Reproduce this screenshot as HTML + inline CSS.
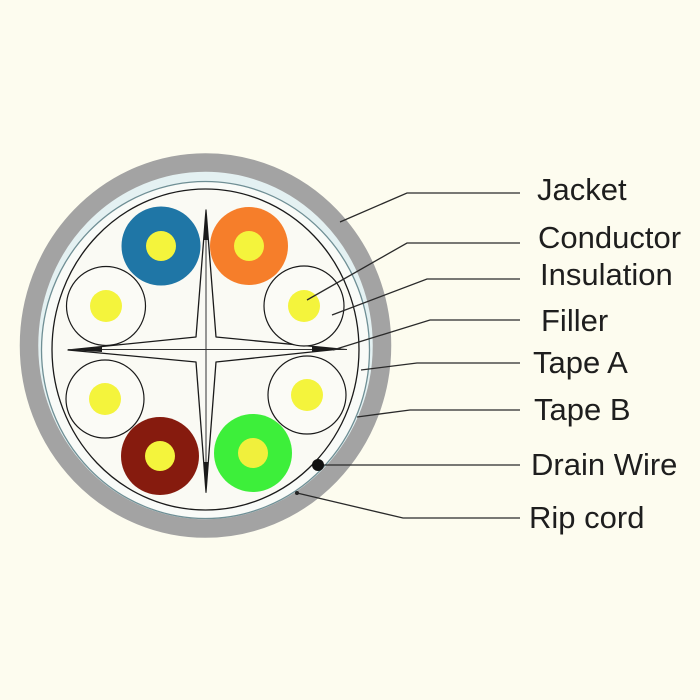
<!DOCTYPE html>
<html>
<head>
<meta charset="utf-8">
<style>
  html,body{margin:0;padding:0;background:#fdfcef;}
  body{width:700px;height:700px;overflow:hidden;}
  svg{display:block;}
  text{font-family:"Liberation Sans",Arial,sans-serif;font-size:31px;fill:#1e1e1e;}
</style>
</head>
<body>
<svg width="700" height="700" viewBox="0 0 700 700" xmlns="http://www.w3.org/2000/svg">
  <rect x="0" y="0" width="700" height="700" fill="#fdfcef"/>

  <!-- Jacket -->
  <ellipse cx="205.5" cy="345.5" rx="176.5" ry="183" fill="#e4f1f2" stroke="#a3a3a3" stroke-width="18.5"/>
  <!-- white band between tape B and tape A -->
  <ellipse cx="205.5" cy="350" rx="164" ry="168.5" fill="#f9fbf8" stroke="#6f8f95" stroke-width="1.3"/>
  <!-- Tape A -->
  <ellipse cx="205.5" cy="349.5" rx="153.5" ry="160.5" fill="#fafaf4" stroke="#1a1a1a" stroke-width="1.3"/>

  <!-- Filler cross -->
  <path d="M206,210 L216,337 L340,349 L216,362 L206,492 L196,362 L68,350 L196,337 Z" fill="#fafaf4" stroke="#1a1a1a" stroke-width="1.3" stroke-linejoin="round"/>
  <line x1="206" y1="210" x2="206" y2="493" stroke="#333" stroke-width="1"/>
  <line x1="68" y1="349.5" x2="347" y2="349.5" stroke="#333" stroke-width="1"/>
  <!-- thick tips -->
  <path d="M68,350 L102,347 L102,352 Z" fill="#1a1a1a"/>
  <path d="M347,349 L312,346.5 L312,351.5 Z" fill="#1a1a1a"/>
  <path d="M206,210 L204,240 L208,240 Z" fill="#1a1a1a"/>
  <path d="M206,493 L204,462 L208,462 Z" fill="#1a1a1a"/>

  <!-- Colored pairs -->
  <circle cx="161" cy="246" r="39.5" fill="#1f76a6"/>
  <circle cx="161" cy="246" r="15" fill="#f4f43c"/>
  <circle cx="249" cy="246" r="39" fill="#f67e2a"/>
  <circle cx="249" cy="246" r="15" fill="#f4f43c"/>
  <circle cx="160" cy="456" r="39" fill="#861b0e"/>
  <circle cx="160" cy="456" r="15" fill="#f4f43c"/>
  <circle cx="253" cy="453" r="39" fill="#3def3a"/>
  <circle cx="253" cy="453" r="15" fill="#f0f03c"/>

  <!-- White pairs -->
  <circle cx="106" cy="306" r="39.5" fill="#fbfbf6" stroke="#1a1a1a" stroke-width="1.2"/>
  <circle cx="106" cy="306" r="16" fill="#f4f43c"/>
  <circle cx="304" cy="306" r="40" fill="#fbfbf6" stroke="#1a1a1a" stroke-width="1.2"/>
  <circle cx="304" cy="306" r="16" fill="#f4f43c"/>
  <circle cx="105" cy="399" r="39" fill="#fbfbf6" stroke="#1a1a1a" stroke-width="1.2"/>
  <circle cx="105" cy="399" r="16" fill="#f4f43c"/>
  <circle cx="307" cy="395" r="39" fill="#fbfbf6" stroke="#1a1a1a" stroke-width="1.2"/>
  <circle cx="307" cy="395" r="16" fill="#f4f43c"/>

  <!-- Leader lines -->
  <g fill="none" stroke="#2a2a2a" stroke-width="1.3">
    <polyline points="340,222 407,193 520,193"/>
    <polyline points="307,300 407,243 520,243"/>
    <polyline points="332,315 427,279 520,279"/>
    <polyline points="333,350 430,320 520,320"/>
    <polyline points="361,370 417,363 520,363"/>
    <polyline points="357,417 410,410 520,410"/>
    <polyline points="318,465 520,465"/>
    <polyline points="297,493 403,518 520,518"/>
  </g>
  <circle cx="318" cy="465" r="6" fill="#111"/>
  <circle cx="297" cy="493" r="2" fill="#222"/>

  <!-- Labels -->
  <text x="537" y="200">Jacket</text>
  <text x="538" y="248">Conductor</text>
  <text x="540" y="285">Insulation</text>
  <text x="541" y="331">Filler</text>
  <text x="533" y="373">Tape A</text>
  <text x="534" y="420">Tape B</text>
  <text x="531" y="475">Drain Wire</text>
  <text x="529" y="528">Rip cord</text>
</svg>
</body>
</html>
